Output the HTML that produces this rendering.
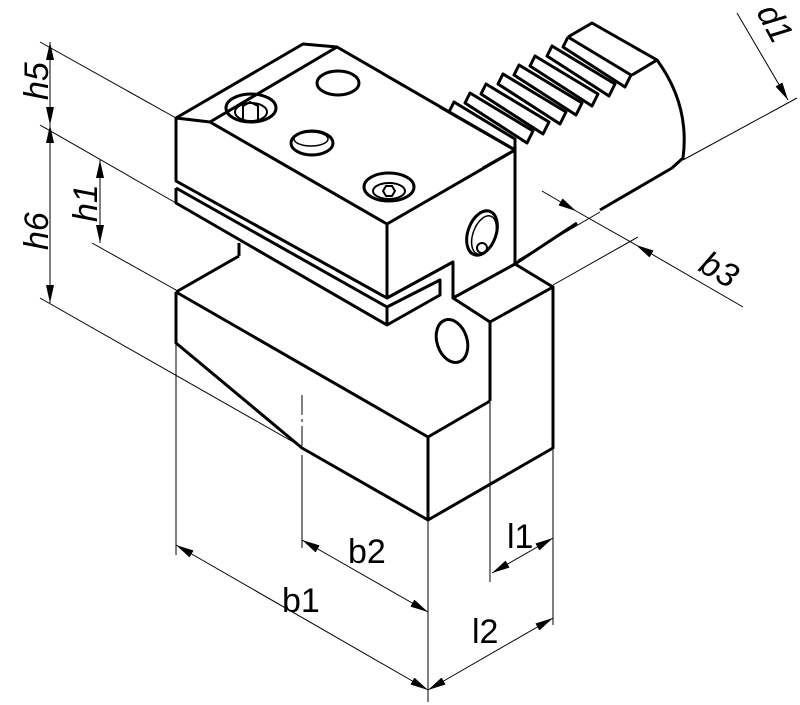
<!DOCTYPE html>
<html><head><meta charset="utf-8"><style>
html,body{margin:0;padding:0;background:#fff}
svg{display:block}
text{font-family:"Liberation Sans",sans-serif;font-size:34px;fill:#000}
</style></head><body>
<svg width="800" height="705" viewBox="0 0 800 705" xmlns="http://www.w3.org/2000/svg">
<defs>
<marker id="a" viewBox="0 0 18 8" refX="18" refY="4" markerWidth="18" markerHeight="8" markerUnits="userSpaceOnUse" orient="auto-start-reverse">
<path d="M0,0 L18,4 L0,8 Z" fill="#000"/></marker>
</defs>
<g stroke="#000" stroke-width="1" fill="none">
<line x1="40" y1="42" x2="176" y2="118"/>
<line x1="40" y1="125" x2="176" y2="203"/>
<line x1="92" y1="243" x2="176" y2="290"/>
<line x1="40" y1="298" x2="302" y2="447"/>
<line x1="176" y1="343" x2="176" y2="555"/>
<line x1="428" y1="520" x2="428" y2="702"/>
<line x1="302" y1="395" x2="302" y2="448" stroke-dasharray="20,4,3,4"/>
<line x1="302" y1="455" x2="302" y2="548"/>
<line x1="553" y1="450" x2="553" y2="625"/>
<line x1="490" y1="402" x2="490" y2="582"/>
<line x1="683" y1="160" x2="797" y2="98"/>
<line x1="553" y1="285" x2="638" y2="237"/>
<line x1="518" y1="260" x2="600" y2="212"/>
<line x1="50" y1="42" x2="50" y2="125" marker-start="url(#a)" marker-end="url(#a)"/>
<line x1="50" y1="125" x2="50" y2="303" marker-start="url(#a)" marker-end="url(#a)"/>
<line x1="100" y1="160" x2="100" y2="243" marker-start="url(#a)" marker-end="url(#a)"/>
<line x1="737" y1="13" x2="788" y2="100" marker-end="url(#a)"/>
<line x1="542" y1="191" x2="576" y2="211" marker-end="url(#a)"/>
<line x1="743" y1="307" x2="636" y2="245" marker-end="url(#a)"/>
<line x1="576" y1="211" x2="636" y2="245"/>
<line x1="176" y1="545" x2="428" y2="690" marker-start="url(#a)" marker-end="url(#a)"/>
<line x1="302" y1="540" x2="428" y2="612" marker-start="url(#a)" marker-end="url(#a)"/>
<line x1="428" y1="690" x2="553" y2="618" marker-start="url(#a)" marker-end="url(#a)"/>
<line x1="492" y1="573" x2="553" y2="538" marker-start="url(#a)" marker-end="url(#a)"/>
</g>
<g stroke="#000" stroke-width="3" fill="none" stroke-linejoin="round">
<path d="M176,292 L239,256"/>
<path d="M176,292 L428,437 L490,401"/>
<path d="M176,292 L176,343 L302,448 L428,520 L553,448 L553,287 L490,322 L490,401"/>
<path d="M428,437 L428,520"/>
<path d="M239,256 L239,243"/>
<path d="M453,298 L490,322"/>
<path d="M553,287 L515,264"/>
<ellipse cx="452" cy="341" rx="15" ry="22" transform="rotate(-18 452 341)"/>
<path d="M176,188 L176,203 L387,325 L440,295 L440,280 L387,307 L176,188"/>
<path d="M387,307 L387,325"/>
<path d="M176,118 L303,44 L337,47 L210,122 Z"/>
<path d="M337,47 L515,150"/>
<path d="M210,122 L387,224 L515,150"/>
<path d="M176,118 L176,181 L387,298 L387,224"/>
<path d="M387,298 L453,262 L453,298 L515,264 L515,150"/>
<ellipse cx="338" cy="83" rx="21" ry="12"/>
<ellipse cx="312" cy="143" rx="21" ry="12"/>
<ellipse cx="311" cy="139" rx="17" ry="7" stroke-width="1.5"/>
<ellipse cx="251" cy="108" rx="25" ry="14"/>
<ellipse cx="251" cy="112" rx="16" ry="9" stroke-width="2"/>
<path d="M243,120 L243,106 L250,102 L258,106 L258,120" stroke-width="2"/>
<ellipse cx="389" cy="187" rx="25" ry="14"/>
<ellipse cx="389" cy="191" rx="16" ry="8" stroke-width="2"/>
<path d="M383,191 L386,186 L392,186 L395,191 L392,196 L386,196 Z" stroke-width="2"/>
<ellipse cx="482" cy="233" rx="14" ry="23" transform="rotate(20 482 233)"/>
<ellipse cx="484" cy="235" rx="11" ry="20" transform="rotate(20 484 235)" stroke-width="1.5"/>
<circle cx="482" cy="248" r="5" stroke-width="2"/>
<!-- shank -->
<path d="M568,37 L592,23 L657,60 L632,75"/>
<path d="M657,60 Q690,105 683,158 L672,168"/>
<path d="M672,168 L600,210"/>
<path d="M515,264 L577,223"/>
<path d="M440,107 L515,150 L483,168"/>
<path d="M568,37 L631,75 L625,87 L563,47 L568,37"/>
<path d="M552,46 L615,84 L609,96 L547,56 Z"/>
<path d="M535,56 L598,94 L592,106 L530,66 Z"/>
<path d="M519,65 L582,103 L576,115 L514,75 Z"/>
<path d="M503,74 L566,112 L560,124 L498,84 Z"/>
<path d="M486,84 L549,122 L543,134 L481,94 Z"/>
<path d="M470,93 L533,131 L527,143 L465,103 Z"/>
<path d="M454,102 L515,139 L515,150 L449,112 Z"/>
</g>
<text transform="translate(48,100) rotate(-90)" font-style="italic">h5</text>
<text transform="translate(48,250) rotate(-90)" font-style="italic">h6</text>
<text transform="translate(97,222) rotate(-90)" font-style="italic">h1</text>
<text transform="translate(756,12) rotate(62)" font-style="italic">d1</text>
<text transform="translate(697,270) rotate(30)" font-style="italic">b3</text>
<text x="348" y="563">b2</text>
<text x="282" y="612">b1</text>
<text x="507" y="548">l1</text>
<text x="472" y="643">l2</text>
</svg>
</body></html>
